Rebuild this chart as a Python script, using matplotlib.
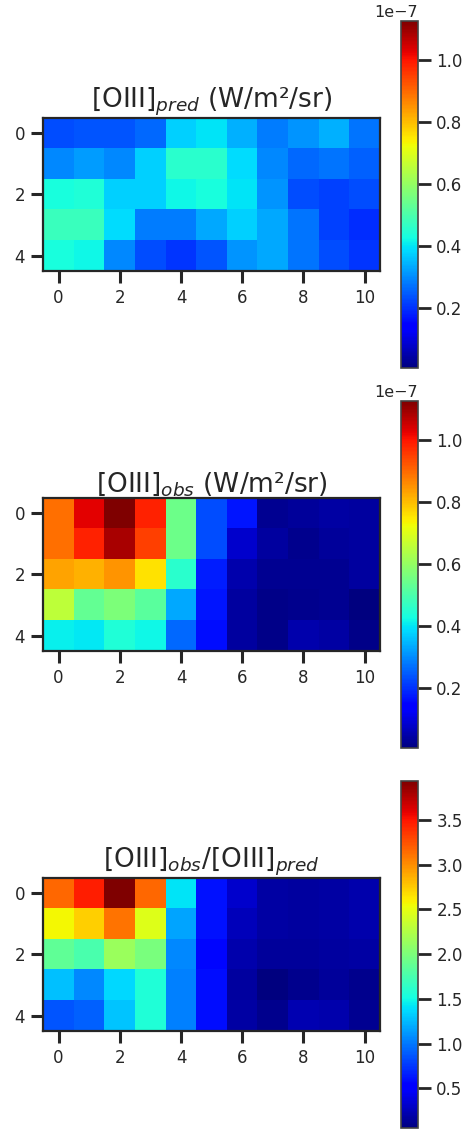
import numpy as np
import matplotlib
matplotlib.use("Agg")
import matplotlib.pyplot as plt

# Data (flux in units of 1e-7 W/m^2/sr)
pred_flux = [
    [0.231, 0.242, 0.242, 0.265, 0.377, 0.399, 0.343, 0.287, 0.309, 0.343, 0.276],
    [0.298, 0.321, 0.298, 0.377, 0.456, 0.456, 0.388, 0.298, 0.265, 0.276, 0.253],
    [0.433, 0.444, 0.377, 0.377, 0.422, 0.433, 0.399, 0.309, 0.231, 0.220, 0.231],
    [0.478, 0.478, 0.388, 0.287, 0.287, 0.332, 0.377, 0.332, 0.276, 0.220, 0.197],
    [0.433, 0.422, 0.298, 0.231, 0.208, 0.242, 0.309, 0.332, 0.276, 0.231, 0.208],
]
obs_flux = [
    [0.894, 1.029, 1.127, 0.984, 0.546, 0.231, 0.169, 0.028, 0.034, 0.045, 0.040],
    [0.894, 0.984, 1.085, 0.950, 0.546, 0.231, 0.085, 0.040, 0.023, 0.034, 0.040],
    [0.832, 0.815, 0.849, 0.759, 0.456, 0.180, 0.051, 0.028, 0.028, 0.028, 0.040],
    [0.658, 0.534, 0.568, 0.523, 0.332, 0.169, 0.040, 0.017, 0.023, 0.028, 0.007],
    [0.411, 0.405, 0.444, 0.422, 0.265, 0.163, 0.040, 0.017, 0.051, 0.045, 0.017],
]
ratio = [
    [3.154, 3.464, 3.939, 3.154, 1.408, 0.613, 0.322, 0.186, 0.166, 0.186, 0.205],
    [2.572, 2.727, 3.115, 2.456, 1.175, 0.613, 0.263, 0.186, 0.166, 0.186, 0.205],
    [1.874, 1.757, 2.145, 1.990, 1.059, 0.554, 0.205, 0.147, 0.147, 0.166, 0.186],
    [1.272, 1.059, 1.369, 1.563, 1.039, 0.593, 0.166, 0.053, 0.108, 0.147, 0.108],
    [0.865, 0.904, 1.292, 1.563, 1.039, 0.593, 0.186, 0.108, 0.225, 0.205, 0.128],
]
UNIT = 1e-7
titles = [r"[OIII]$_{pred}$ (W/m²/sr)", r"[OIII]$_{obs}$ (W/m²/sr)",
          r"[OIII]$_{obs}$/[OIII]$_{pred}$"]
xticks = [0, 2, 4, 6, 8, 10]
yticks = [0, 2, 4]
ratio_ticks = [0.5, 1.0, 1.5, 2.0, 2.5, 3.0, 3.5]

pred = np.array(pred_flux) * UNIT
obs = np.array(obs_flux) * UNIT
rat = np.array(ratio)

W, H = 476, 1130
fig = plt.figure(figsize=(W / 100, H / 100), dpi=100)
TXT = "#262626"

def fx(px):
    return px / W

def fy(top, bottom):
    return (H - bottom) / H, (bottom - top) / H

panels = [
    (pred, obs.min(), obs.max(), 117.7, 271.0, 20.7, 368.3),
    (obs, obs.min(), obs.max(), 497.7, 651.0, 400.7, 748.3),
    (rat, rat.min(), rat.max(), 877.7, 1031.0, 780.7, 1128.3),
]

for i, (data, vmin, vmax, at, ab, ct, cb) in enumerate(panels):
    b, h = fy(at, ab)
    ax = fig.add_axes([fx(43.3), b, fx(380 - 43.3), h])
    im = ax.imshow(data, cmap="jet", vmin=vmin, vmax=vmax, aspect="auto",
                   interpolation="nearest")
    ax.set_xticks(xticks)
    ax.set_yticks(yticks)
    ax.tick_params(length=8.5, width=2.2, labelsize=12, colors=TXT, pad=4.5)
    for sp in ax.spines.values():
        sp.set_linewidth(1.6)
        sp.set_color(TXT)
    ax.set_title(titles[i], fontsize=19, color=TXT, pad=4)

    cb_b, cb_h = fy(ct, cb)
    cax = fig.add_axes([fx(400.7), cb_b, fx(418.3 - 400.7), cb_h])
    cbar = fig.colorbar(im, cax=cax)
    cbar.outline.set_linewidth(1.2)
    cbar.outline.set_edgecolor("#444444")
    cax.tick_params(length=9, width=2.0, labelsize=12, colors=TXT, pad=4)
    cbar.ax.yaxis.get_offset_text().set_fontsize(11.5)
    cbar.ax.yaxis.get_offset_text().set_color(TXT)
    if i == 2:
        cbar.set_ticks(ratio_ticks)

fig.savefig("out.png", dpi=100)
